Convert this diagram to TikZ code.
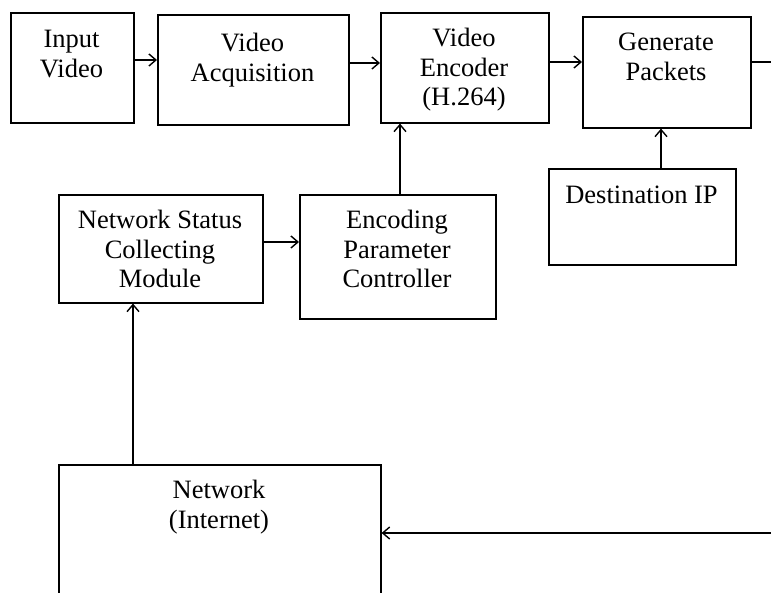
\documentclass[tikz,border=0pt]{standalone}
\usepackage{fontspec}
\setmainfont{Liberation Serif}
\usetikzlibrary{arrows.meta}
\begin{document}
\begin{tikzpicture}[x=1pt,y=-1pt,line width=1.6pt,
  box/.style={draw,rectangle,inner sep=0pt,anchor=north west},
  lbl/.style={align=center,inner sep=0pt,anchor=north,font=\fontsize{26.5}{29.5}\selectfont},
  arr/.style={-{Straight Barb[length=7pt,width=12pt,line width=1.4pt]}}]
\useasboundingbox (0,0) rectangle (771,593);
\clip (0,0) rectangle (771,593);
% boxes
\node[box,minimum width=123pt,minimum height=110pt] (iv) at (10,12) {};
\node[box,minimum width=191pt,minimum height=110pt] (va) at (157,14) {};
\node[box,minimum width=168pt,minimum height=110pt] (ve) at (380,12) {};
\node[box,minimum width=168pt,minimum height=111pt] (gp) at (582,16) {};
\node[box,minimum width=187pt,minimum height=96pt] (dip) at (548,168) {};
\node[box,minimum width=204pt,minimum height=108pt] (ns) at (58,194) {};
\node[box,minimum width=196pt,minimum height=124pt] (epc) at (299,194) {};
\node[box,minimum width=322pt,minimum height=200pt] (net) at (58,464) {};
% labels
\node[lbl] (ivt) at (71.5,29.5) {Input\\Video};
\node[lbl] (vat) at (252.5,32.5) {Video\\Acquisition};
\node[lbl] (vet) at (464,27.5) {Video\\Encoder\\(H.264)};
\node[lbl] (gpt) at (666,32.5) {Generate\\Packets};
\node[lbl] (dipt) at (641.5,185.5) {Destination IP};
\node[lbl] (nst) at (160,209.5) {Network Status\\Collecting\\Module};
\node[lbl] (epct) at (397,209.5) {Encoding\\Parameter\\Controller};
\node[lbl] (nett) at (219,479.5) {Network\\(Internet)};
% free ends
\coordinate (out) at (771,62);
\coordinate (in) at (771,533);
% connectors
\draw[arr] (iv.east |- 0,60) -- (va.west |- 0,60);
\draw[arr] (va.east |- 0,63) -- (ve.west |- 0,63);
\draw[arr] (ve.east |- 0,62) -- (gp.west |- 0,62);
\draw (gp.east |- out) -- (out);
\draw[arr] (dip.north -| 661,0) -- (gp.south -| 661,0);
\draw[arr] (ns.east |- 0,242) -- (epc.west |- 0,242);
\draw[arr] (epc.north -| 400,0) -- (ve.south -| 400,0);
\draw[arr] (net.north -| 133,0) -- (ns.south -| 133,0);
\draw[arr] (in) -- (net.east |- in);
\end{tikzpicture}
\end{document}
